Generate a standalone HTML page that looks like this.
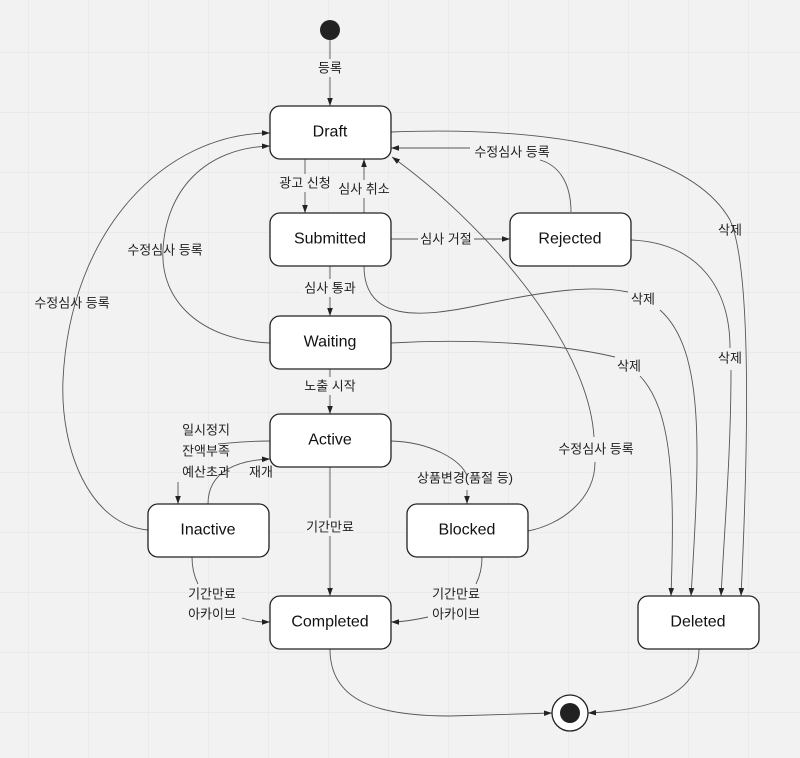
<!DOCTYPE html>
<html><head><meta charset="utf-8"><style>
html,body{margin:0;padding:0;}
body{width:800px;height:758px;overflow:hidden;background:#f2f2f2;}
svg{display:block;}
.n{fill:#fff;stroke:#222;stroke-width:1.3;}
.e{fill:none;stroke:#555;stroke-width:0.9;}
.t{font-family:"Liberation Sans","Noto Sans CJK KR",sans-serif;font-size:16px;fill:#111;text-anchor:middle;dominant-baseline:central;}
.l{font-family:"Liberation Sans","Noto Sans CJK KR",sans-serif;font-size:13px;fill:#222;text-anchor:middle;dominant-baseline:central;}
.bg{fill:#f2f2f2;}
</style></head><body>
<svg width="800" height="758" viewBox="0 0 800 758" xmlns="http://www.w3.org/2000/svg">
<defs>
<pattern id="g" x="28" y="52" width="60" height="60" patternUnits="userSpaceOnUse">
<path d="M0 0H60M0 0V60" stroke="#e3e3e3" stroke-width="1" fill="none"/>
</pattern>
<marker id="a" viewBox="0 0 10 10" refX="10" refY="5" markerWidth="8" markerHeight="8" orient="auto" markerUnits="userSpaceOnUse">
<path d="M0,1.5 L10,5 L0,8.5 z" fill="#222"/>
</marker>
</defs>
<rect width="800" height="758" fill="url(#g)"/>

<!-- edges -->
<path class="e" d="M330,40 V106" marker-end="url(#a)"/>
<path class="e" d="M305,159 V213" marker-end="url(#a)"/>
<path class="e" d="M364,213 V159" marker-end="url(#a)"/>
<path class="e" d="M391,239 H510" marker-end="url(#a)"/>
<path class="e" d="M571,212 C571,182 558,165 540,160"/>
<path class="e" d="M470,148 H391" marker-end="url(#a)"/>
<path class="e" d="M391,132 C550,126 690,150 730,220 C752,270 748,450 741,596" marker-end="url(#a)"/>
<path class="e" d="M364,266 C364,322 420,318 480,305 C550,290 595,285 628,292"/>
<path class="e" d="M660,310 C705,350 700,450 691,596" marker-end="url(#a)"/>
<path class="e" d="M391,343 C480,338 565,345 615,357"/>
<path class="e" d="M640,376 C672,410 675,480 671,596" marker-end="url(#a)"/>
<path class="e" d="M631,240 C700,243 730,290 730,348"/>
<path class="e" d="M731,370 C731,450 725,520 721,596" marker-end="url(#a)"/>
<path class="e" d="M330,266 V316" marker-end="url(#a)"/>
<path class="e" d="M330,369 V414" marker-end="url(#a)"/>
<path class="e" d="M270,343 C200,340 160,300 163,250 C166,190 205,148 270,146" marker-end="url(#a)"/>
<path class="e" d="M148,530 C90,525 60,450 63,380 C70,230 165,133 270,133" marker-end="url(#a)"/>
<path class="e" d="M528,531 C560,525 595,500 595,462"/>
<path class="e" d="M594,437 C588,340 480,220 392,157" marker-end="url(#a)"/>
<path class="e" d="M270,441 C245,441 230,443 218,444"/>
<path class="e" d="M178,482 L178,504" marker-end="url(#a)"/>
<path class="e" d="M208,504 C208,470 240,460 270,459" marker-end="url(#a)"/>
<path class="e" d="M391,441 C430,442 462,460 467,476"/>
<path class="e" d="M467,490 L467,504" marker-end="url(#a)"/>
<path class="e" d="M330,467 V596" marker-end="url(#a)"/>
<path class="e" d="M192,557 C192,570 195,578 198,584"/>
<path class="e" d="M242,618 C255,622 262,622 270,622" marker-end="url(#a)"/>
<path class="e" d="M482,557 C482,570 479,578 476,584"/>
<path class="e" d="M428,617 C410,621 400,622 391,622" marker-end="url(#a)"/>
<path class="e" d="M330,649 C330,700 375,716 450,716 L552,713" marker-end="url(#a)"/>
<path class="e" d="M699,649 C699,690 660,710 588,713" marker-end="url(#a)"/>

<!-- start / end -->
<circle cx="330" cy="30" r="10" fill="#222"/>
<circle cx="570" cy="713" r="18" fill="#fff" stroke="#222" stroke-width="1.3"/>
<circle cx="570" cy="713" r="10" fill="#222"/>

<!-- nodes -->
<rect class="n" x="270" y="106" width="121" height="53" rx="10"/><text class="t" x="330" y="132">Draft</text>
<rect class="n" x="270" y="213" width="121" height="53" rx="10"/><text class="t" x="330" y="239">Submitted</text>
<rect class="n" x="510" y="213" width="121" height="53" rx="10"/><text class="t" x="570" y="239">Rejected</text>
<rect class="n" x="270" y="316" width="121" height="53" rx="10"/><text class="t" x="330" y="342">Waiting</text>
<rect class="n" x="270" y="414" width="121" height="53" rx="10"/><text class="t" x="330" y="440">Active</text>
<rect class="n" x="148" y="504" width="121" height="53" rx="10"/><text class="t" x="208" y="530">Inactive</text>
<rect class="n" x="407" y="504" width="121" height="53" rx="10"/><text class="t" x="467" y="530">Blocked</text>
<rect class="n" x="270" y="596" width="121" height="53" rx="10"/><text class="t" x="330" y="622">Completed</text>
<rect class="n" x="638" y="596" width="121" height="53" rx="10"/><text class="t" x="698" y="622">Deleted</text>

<!-- labels -->
<rect class="bg" x="316" y="59" width="28" height="18"/><text class="l" x="330" y="68">등록</text>
<rect class="bg" x="279" y="174" width="56" height="18"/><text class="l" x="305" y="183">광고 신청</text>
<rect class="bg" x="337" y="180" width="56" height="18"/><text class="l" x="364" y="189">심사 취소</text>
<rect class="bg" x="418" y="230" width="56" height="18"/><text class="l" x="446" y="239">심사 거절</text>
<text class="l" x="512" y="152">수정심사 등록</text>
<text class="l" x="730" y="230">삭제</text>
<text class="l" x="643" y="299">삭제</text>
<text class="l" x="629" y="366">삭제</text>
<text class="l" x="730" y="358">삭제</text>
<rect class="bg" x="302" y="279" width="56" height="18"/><text class="l" x="330" y="288">심사 통과</text>
<rect class="bg" x="302" y="377" width="56" height="18"/><text class="l" x="330" y="386">노출 시작</text>
<text class="l" x="165" y="250">수정심사 등록</text>
<text class="l" x="72" y="303">수정심사 등록</text>
<text class="l" x="596" y="449">수정심사 등록</text>
<text class="l" x="206" y="430">일시정지</text>
<text class="l" x="206" y="451">잔액부족</text>
<text class="l" x="206" y="472">예산초과</text>
<text class="l" x="261" y="472">재개</text>
<text class="l" x="465" y="478">상품변경(품절 등)</text>
<rect class="bg" x="304" y="518" width="52" height="18"/><text class="l" x="330" y="527">기간만료</text>
<text class="l" x="212" y="594">기간만료</text>
<text class="l" x="212" y="614">아카이브</text>
<text class="l" x="456" y="594">기간만료</text>
<text class="l" x="456" y="614">아카이브</text>
</svg>
</body></html>
